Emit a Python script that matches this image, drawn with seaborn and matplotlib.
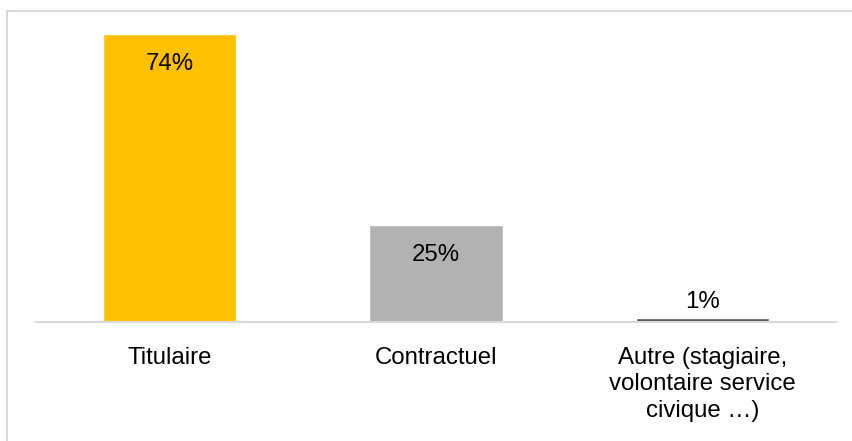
import matplotlib
matplotlib.use("Agg")
import matplotlib.pyplot as plt
import seaborn as sns
import pandas as pd
from matplotlib.lines import Line2D

categories = ["Titulaire", "Contractuel", "Autre (stagiaire,\nvolontaire service\ncivique …)"]
values = [74, 25, 1]
labels = ["74%", "25%", "1%"]
colors = ["#FFC000", "#B2B2B2", "#595959"]

sns.set_theme(style="white")
plt.rcParams['font.family'] = ['Liberation Sans', 'DejaVu Sans']

W, H = 852, 441
fig = plt.figure(figsize=(W / 100, H / 100), dpi=100)
ax = fig.add_axes([36 / W, (H - 322) / H, 800 / W, 300 / H])

df = pd.DataFrame({"cat": categories, "val": values})
sns.barplot(data=df, x="cat", y="val", hue="cat", palette=colors, legend=False,
            width=0.5, ax=ax, saturation=1)

ax.set_ylim(0, 77)
ax.set_xlim(-0.5, 2.5)
ax.set_xlabel("")
ax.set_ylabel("")
ax.set_yticks([])
for s in ["top", "right", "left"]:
    ax.spines[s].set_visible(False)
ax.spines["bottom"].set_color("#D9D9D9")
ax.spines["bottom"].set_linewidth(1.5)
ax.tick_params(axis="x", length=0, pad=18, labelsize=17.3, colors="#000000")
for t in ax.get_xticklabels():
    t.set_linespacing(1.25)

# value labels
px = 77 / 300.0
for i, (v, lab) in enumerate(zip(values, labels)):
    if v > 10:
        ax.text(i, v - 30 * px, lab, ha="center", va="center", fontsize=17.3, color="#000000")
    else:
        ax.text(i, v + 16 * px, lab, ha="center", va="center", fontsize=17.3, color="#000000")

# outer border (top and left)
fig.add_artist(Line2D([7 / W, 1.0], [(H - 11) / H, (H - 11) / H], transform=fig.transFigure,
                      color="#D9D9D9", lw=1.5))
fig.add_artist(Line2D([7 / W, 7 / W], [0.0, (H - 11) / H], transform=fig.transFigure,
                      color="#D9D9D9", lw=1.5))

fig.savefig("out.png", dpi=100)
